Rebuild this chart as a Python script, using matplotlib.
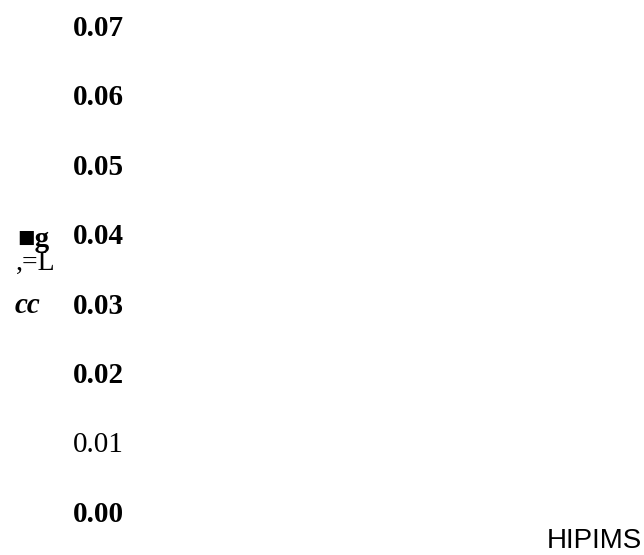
import matplotlib
matplotlib.use("Agg")
import matplotlib.pyplot as plt

# data
tick_values = [0.00, 0.01, 0.02, 0.03, 0.04, 0.05, 0.06, 0.07]
tick_labels = ["0.00", "0.01", "0.02", "0.03", "0.04", "0.05", "0.06", "0.07"]
tick_weights = ["bold", "normal", "bold", "bold", "bold", "bold", "bold", "bold"]
x_label = "HIPIMS"
y_label_pieces = ["\u25a0g", ",=L", "cc"]

W, H = 644, 555
fig = plt.figure(figsize=(W / 100, H / 100), dpi=100)
ax = fig.add_axes([73 / W, 1 - 512 / H, (631 - 73) / W, (512 - 25) / H])
ax.set_ylim(0, 0.07)
ax.set_xlim(0, 1)
for s in ax.spines.values():
    s.set_visible(False)
ax.set_xticks([])
ax.set_yticks(tick_values)
ax.set_yticklabels(tick_labels)
ax.tick_params(axis="y", length=0, pad=0)
for lab, w in zip(ax.get_yticklabels(), tick_weights):
    lab.set_horizontalalignment("left")
    lab.set_fontfamily("Liberation Serif")
    lab.set_fontsize(21)
    lab.set_fontweight(w)
    lab.set_color("black")

ax.set_xlabel(x_label, fontfamily="Liberation Sans", fontsize=20, color="black")
ax.xaxis.set_label_coords((594 - 73) / (631 - 73), -29 / 487)
ax.xaxis.label.set_verticalalignment("center")

serif = ["Liberation Serif", "DejaVu Sans"]
fig.text(17 / W, 1 - 247 / H, y_label_pieces[0], family=serif, fontsize=21,
         fontweight="bold", ha="left", va="baseline")
fig.text(16 / W, 1 - 270 / H, y_label_pieces[1], family=serif, fontsize=20,
         ha="left", va="baseline")
fig.text(15 / W, 1 - 313 / H, y_label_pieces[2], family=serif, fontsize=21,
         fontweight="bold", fontstyle="italic", ha="left", va="baseline")

fig.savefig("out.png", dpi=100, facecolor="white")
